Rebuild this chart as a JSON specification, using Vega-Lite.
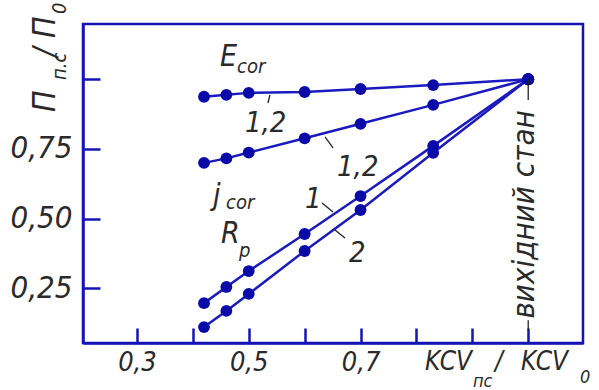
{
  "$schema": "https://vega.github.io/schema/vega-lite/v6.json",
  "width": 500,
  "height": 319,
  "autosize": {"type": "none"},
  "padding": {"left": 83, "top": 24, "right": 16, "bottom": 47},
  "background": "white",
  "config": {
    "view": {"stroke": "#1414b4", "strokeWidth": 2.5},
    "font": "DejaVu Sans Condensed",
    "text": {"fontStyle": "italic", "color": "#2a2a2a", "font": "DejaVu Sans Condensed"}
  },
  "datasets": {
    "curves": [
      {"s": "E", "x": 0.42, "y": 0.937}, {"s": "E", "x": 0.46, "y": 0.944}, {"s": "E", "x": 0.50, "y": 0.951}, {"s": "E", "x": 0.60, "y": 0.954}, {"s": "E", "x": 0.70, "y": 0.965}, {"s": "E", "x": 0.83, "y": 0.979}, {"s": "E", "x": 1.0, "y": 1.0},
      {"s": "j", "x": 0.42, "y": 0.700}, {"s": "j", "x": 0.46, "y": 0.716}, {"s": "j", "x": 0.50, "y": 0.737}, {"s": "j", "x": 0.60, "y": 0.788}, {"s": "j", "x": 0.70, "y": 0.840}, {"s": "j", "x": 0.83, "y": 0.908}, {"s": "j", "x": 1.0, "y": 1.0},
      {"s": "R1", "x": 0.42, "y": 0.197}, {"s": "R1", "x": 0.46, "y": 0.255}, {"s": "R1", "x": 0.50, "y": 0.312}, {"s": "R1", "x": 0.60, "y": 0.445}, {"s": "R1", "x": 0.70, "y": 0.581}, {"s": "R1", "x": 0.83, "y": 0.761}, {"s": "R1", "x": 1.0, "y": 1.0},
      {"s": "R2", "x": 0.42, "y": 0.111}, {"s": "R2", "x": 0.46, "y": 0.169}, {"s": "R2", "x": 0.50, "y": 0.230}, {"s": "R2", "x": 0.60, "y": 0.384}, {"s": "R2", "x": 0.70, "y": 0.531}, {"s": "R2", "x": 0.83, "y": 0.736}, {"s": "R2", "x": 1.0, "y": 1.0}
    ],
    "leaders": [
      {"x": 0.538, "y": 0.9435, "x2": 0.5344, "y2": 0.9148},
      {"x": 0.6364, "y": 0.7929, "x2": 0.6508, "y2": 0.7534},
      {"x": 0.6311, "y": 0.5562, "x2": 0.6508, "y2": 0.5239},
      {"x": 0.6543, "y": 0.4593, "x2": 0.6722, "y2": 0.4306},
      {"x": 1.0, "y": 1.0, "x2": 1.0, "y2": 0.9256},
      {"x": 1.0, "y": 0.136, "x2": 1.0, "y2": 0.10}
    ],
    "big": [
      {"x": 0.4486, "y": 1.0475, "t": "E"},
      {"x": 0.4361, "y": 0.549, "t": "j"},
      {"x": 0.4504, "y": 0.4127, "t": "R"}
    ],
    "sub": [
      {"x": 0.4790, "y": 1.0224, "t": "cor"},
      {"x": 0.4593, "y": 0.5346, "t": "cor"},
      {"x": 0.4826, "y": 0.3625, "t": "p"}
    ],
    "nums": [
      {"x": 0.4933, "y": 0.8108, "t": "1,2"},
      {"x": 0.6579, "y": 0.653, "t": "1,2"},
      {"x": 0.6006, "y": 0.5382, "t": "1"},
      {"x": 0.6794, "y": 0.3445, "t": "2"}
    ],
    "ytMain": [
      {"x": 0.1534, "y": 0.8826, "t": "П"},
      {"x": 0.1534, "y": 1.0798, "t": "/"},
      {"x": 0.1534, "y": 1.148, "t": "П"}
    ],
    "ytSub": [
      {"x": 0.1731, "y": 0.9973, "t": "п.с"},
      {"x": 0.1731, "y": 1.234, "t": "0"}
    ],
    "xtMain": [
      {"x": 0.8154, "y": -0.0428, "t": "KCV"},
      {"x": 0.9406, "y": -0.0428, "t": "/"},
      {"x": 0.9871, "y": -0.0428, "t": "KCV"}
    ],
    "xtSub": [
      {"x": 0.9012, "y": -0.1038, "t": "пс"},
      {"x": 1.0926, "y": -0.0895, "t": "0"}
    ],
    "state": [
      {"x": 0.9946, "y": 0.515, "t": "вихідний стан"}
    ]
  },
  "encoding": {
    "x": {"field": "x", "type": "quantitative", "scale": {"domain": [0.2035, 1.098], "nice": false, "zero": false},
      "axis": {"values": [0.3, 0.4, 0.5, 0.6, 0.7, 0.8, 0.9, 1.0], "grid": false, "title": null,
        "labelExpr": "(format(datum.value, '.1f') == '0.3' || format(datum.value, '.1f') == '0.5' || format(datum.value, '.1f') == '0.7') ? replace(format(datum.value, '.1f'), '.', ',') : ''",
        "domainColor": "#1414b4", "domainWidth": 2.5, "tickColor": "#1414b4", "tickWidth": 2.5, "tickSize": -15,
        "labelFont": "DejaVu Sans Condensed", "labelFontStyle": "italic", "labelFontSize": 27, "labelColor": "#2a2a2a", "labelPadding": 21, "labelFlush": false, "labelOverlap": false}},
    "y": {"field": "y", "type": "quantitative", "scale": {"domain": [0.054, 1.198], "nice": false, "zero": false},
      "axis": {"values": [0.25, 0.5, 0.75, 1.0], "grid": false, "title": null,
        "labelExpr": "datum.value > 0.9 ? '' : replace(format(datum.value, '.2f'), '.', ',')",
        "domainColor": "#1414b4", "domainWidth": 2.5, "tickColor": "#1414b4", "tickWidth": 2.5, "tickSize": -17,
        "labelFont": "DejaVu Sans Condensed", "labelFontStyle": "italic", "labelFontSize": 31, "labelColor": "#2a2a2a", "labelPadding": 28, "labelFlush": false, "labelOverlap": false}}
  },
  "layer": [
    {
      "data": {"name": "curves"},
      "mark": {"type": "line", "color": "#1a1ac0", "strokeWidth": 2.5, "point": {"filled": true, "size": 140, "color": "#0a0aa8", "opacity": 1}},
      "encoding": {"detail": {"field": "s"}}
    },
    {
      "data": {"name": "leaders"},
      "mark": {"type": "rule", "color": "#222222", "strokeWidth": 1.3},
      "encoding": {"x2": {"field": "x2"}, "y2": {"field": "y2"}}
    },
    {
      "data": {"name": "big"},
      "mark": {"type": "text", "fontSize": 30, "align": "left", "baseline": "alphabetic"},
      "encoding": {"text": {"field": "t"}}
    },
    {
      "data": {"name": "sub"},
      "mark": {"type": "text", "fontSize": 20, "align": "left", "baseline": "alphabetic"},
      "encoding": {"text": {"field": "t"}}
    },
    {
      "data": {"name": "nums"},
      "mark": {"type": "text", "fontSize": 29, "align": "left", "baseline": "alphabetic"},
      "encoding": {"text": {"field": "t"}}
    },
    {
      "data": {"name": "ytMain"},
      "mark": {"type": "text", "fontSize": 32, "angle": 270, "align": "left", "baseline": "alphabetic"},
      "encoding": {"text": {"field": "t"}}
    },
    {
      "data": {"name": "ytSub"},
      "mark": {"type": "text", "fontSize": 20, "angle": 270, "align": "left", "baseline": "alphabetic"},
      "encoding": {"text": {"field": "t"}}
    },
    {
      "data": {"name": "xtMain"},
      "mark": {"type": "text", "fontSize": 26, "align": "left", "baseline": "alphabetic"},
      "encoding": {"text": {"field": "t"}}
    },
    {
      "data": {"name": "xtSub"},
      "mark": {"type": "text", "fontSize": 18, "align": "left", "baseline": "alphabetic"},
      "encoding": {"text": {"field": "t"}}
    },
    {
      "data": {"name": "state"},
      "mark": {"type": "text", "fontSize": 31, "angle": 270, "align": "center", "baseline": "middle"},
      "encoding": {"text": {"field": "t"}}
    }
  ]
}
